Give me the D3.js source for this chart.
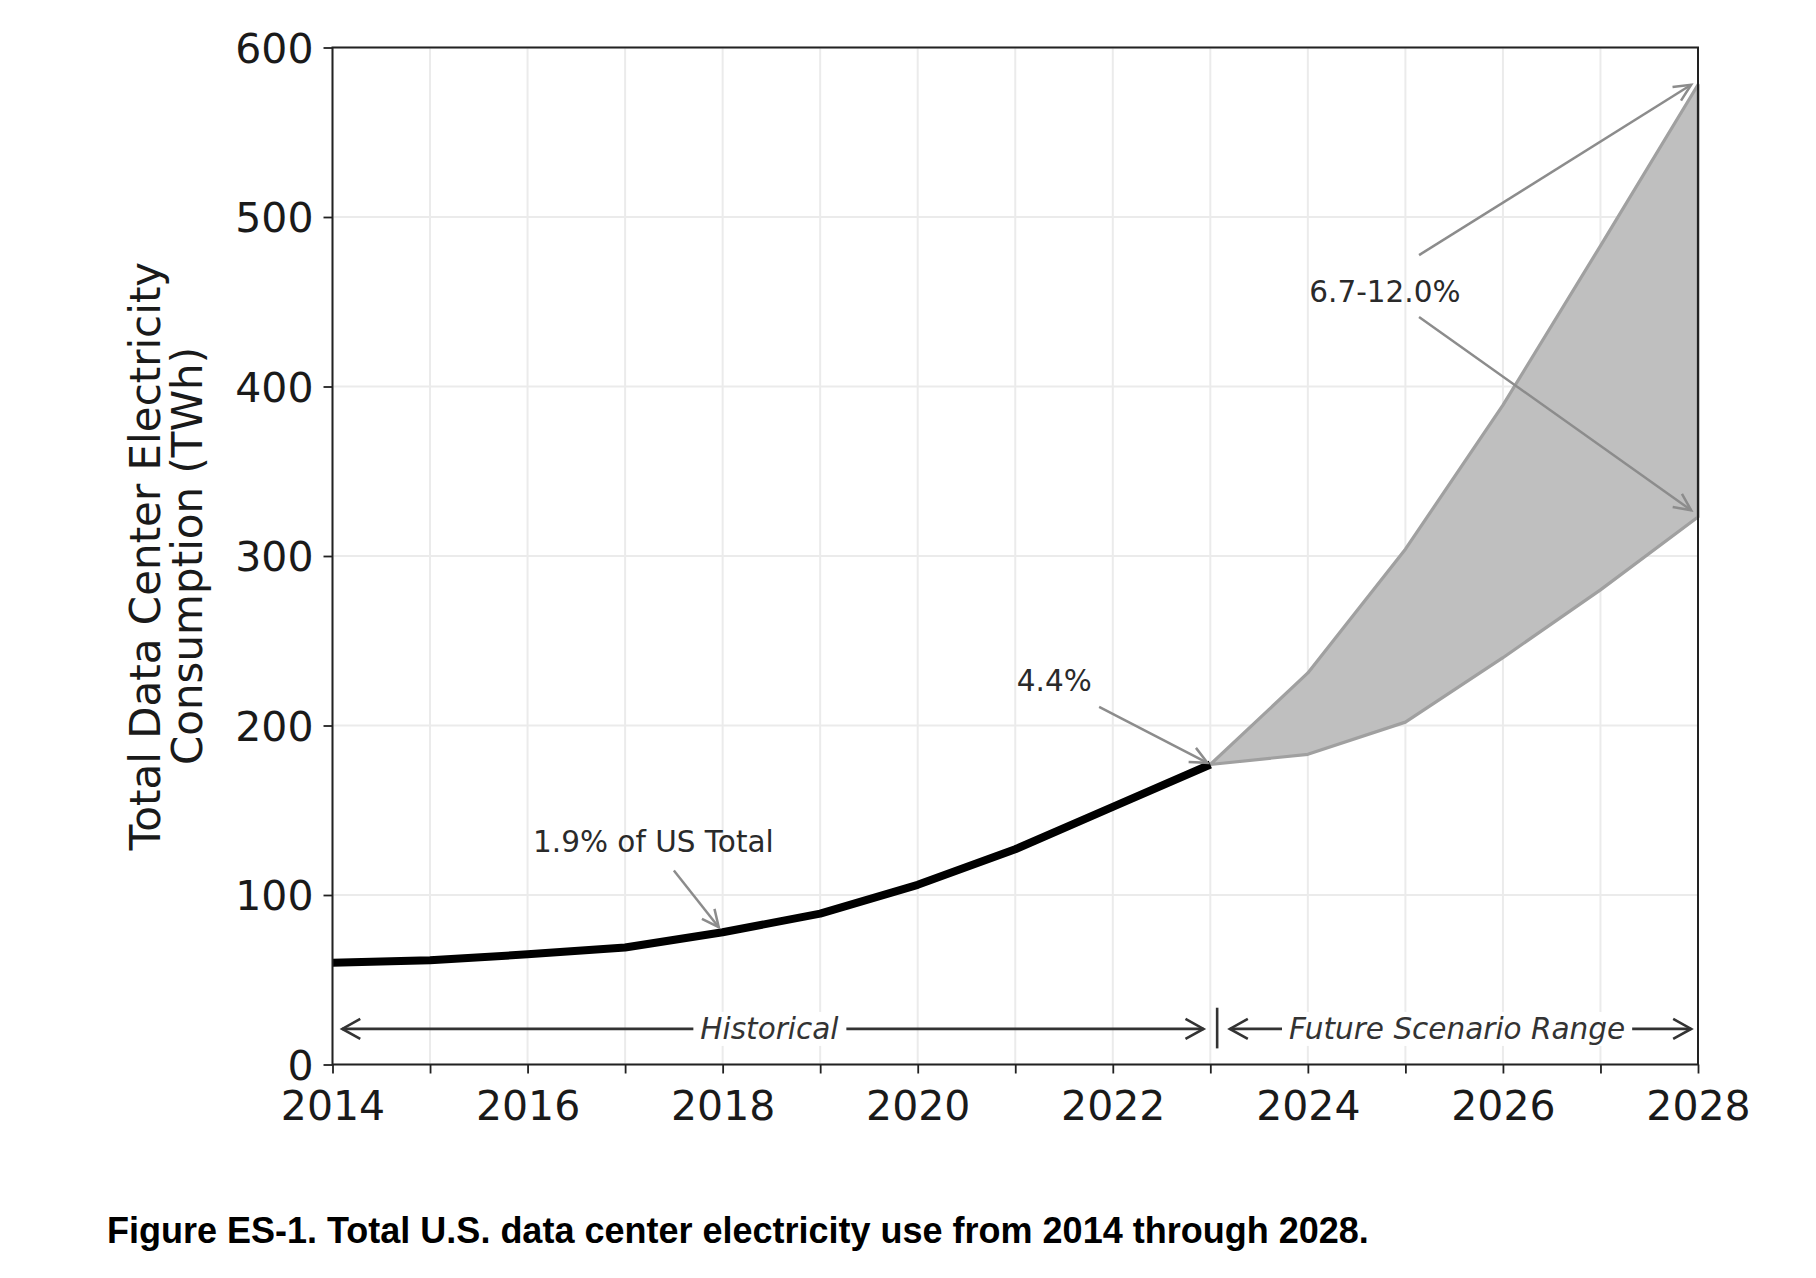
<!DOCTYPE html>
<html><head><meta charset="utf-8">
<script src="https://cdn.jsdelivr.net/npm/d3@7"></script>
<style>html,body{margin:0;padding:0;background:#fff;} svg{display:block;}</style>
</head><body>
<svg id="chart" width="1816" height="1278"></svg>
<script>
// ---- data ----
const histYears = [2014,2015,2016,2017,2018,2019,2020,2021,2022,2023];
const histValues = [60,61.5,65,69,78,89,106,127,152,177];
const futYears = [2023,2024,2025,2026,2027,2028];
const futLow = [177,183,202,240,280,323];
const futHigh = [177,231,304,389,483,578];
const xTicks = [2014,2016,2018,2020,2022,2024,2026,2028];
const xMinorTicks = d3.range(2014,2029);
const yTicks = [0,100,200,300,400,500,600];
const yLabelLines = ["Total Data Center Electricity","Consumption (TWh)"];
const caption = "Figure ES-1. Total U.S. data center electricity use from 2014 through 2028.";
// annotations: text + arrow start + arrow tip, in data units
const callouts = [
  {text:"1.9% of US Total", tx:2017.29, ty:131, arrows:[[2017.50,114.5,2017.96,81]]},
  {text:"4.4%", tx:2021.40, ty:226, arrows:[[2021.86,211,2022.97,178]]},
  {text:"6.7-12.0%", tx:2024.79, ty:456, arrows:[[2025.14,477.5,2027.93,578],[2025.14,441,2027.93,327]]}
];
const spans = [
  {text:"Historical", from:2014.1, to:2022.93, tx:2018.48},
  {text:"Future Scenario Range", from:2023.2, to:2027.93, tx:2025.53}
];
const spanValue = 21;
const separator = {x:2023.07, y0:9.5, y1:33.5};

// ---- layout ----
const svg = d3.select("#chart");
const L = 332.5, R = 1698, T = 47.5, B = 1064.5;
const x = d3.scaleLinear().domain([2014,2028]).range([L,R]);
const y = d3.scaleLinear().domain([0,600]).range([B,T]);
const axisColor = "#222";

// grid
const g = svg.append("g");
g.selectAll(".vg").data(xMinorTicks).join("line")
  .attr("x1",d=>x(d)).attr("x2",d=>x(d)).attr("y1",T).attr("y2",B)
  .attr("stroke","#ebebeb").attr("stroke-width",2);
g.selectAll(".hg").data(yTicks).join("line")
  .attr("x1",L).attr("x2",R).attr("y1",d=>y(d)).attr("y2",d=>y(d))
  .attr("stroke","#ebebeb").attr("stroke-width",2);

// future range
const fut = futYears.map((yr,i)=>({yr,lo:futLow[i],hi:futHigh[i]}));
svg.append("path").datum(fut)
  .attr("d", d3.area().x(d=>x(d.yr)).y0(d=>y(d.lo)).y1(d=>y(d.hi)))
  .attr("fill","#bfbfbf").attr("stroke","#a0a0a0").attr("stroke-width",3.2).attr("stroke-linejoin","round");

// historical line
svg.append("path").datum(histYears.map((yr,i)=>[yr,histValues[i]]))
  .attr("d", d3.line().x(d=>x(d[0])).y(d=>y(d[1])))
  .attr("fill","none").attr("stroke","#000").attr("stroke-width",8)
  .attr("stroke-linejoin","round").attr("stroke-linecap","butt");

// arrow helper (open "->" head)
function arrow(sel, x1,y1,x2,y2, color, w, hl, hw){
  sel.append("line").attr("x1",x1).attr("y1",y1).attr("x2",x2).attr("y2",y2)
    .attr("stroke",color).attr("stroke-width",w);
  const a = Math.atan2(y2-y1,x2-x1);
  const p1 = [x2 - hl*Math.cos(a) + hw*Math.sin(a), y2 - hl*Math.sin(a) - hw*Math.cos(a)];
  const p2 = [x2 - hl*Math.cos(a) - hw*Math.sin(a), y2 - hl*Math.sin(a) + hw*Math.cos(a)];
  sel.append("path").attr("d",`M${p1}L${x2},${y2}L${p2}`)
    .attr("fill","none").attr("stroke",color).attr("stroke-width",w).attr("stroke-linejoin","miter");
}

// callouts
const ann = svg.append("g");
callouts.forEach(c=>{
  ann.append("text").attr("x",x(c.tx)).attr("y",y(c.ty))
    .attr("text-anchor","middle").attr("dominant-baseline","central")
    .attr("font-family","DejaVu Sans").attr("font-size",29.5).attr("fill","#2a2a2a").text(c.text);
  c.arrows.forEach(a=>arrow(ann, x(a[0]),y(a[1]),x(a[2]),y(a[3]), "#8c8c8c", 2.5, 17, 8));
});

// spans
spans.forEach(s=>{
  const yy = y(spanValue);
  arrow(ann, x(s.tx), yy, x(s.from), yy, "#333", 2.6, 18, 10);
  arrow(ann, x(s.tx), yy, x(s.to), yy, "#333", 2.6, 18, 10);
  const t = ann.append("text").attr("x",x(s.tx)).attr("y",yy)
    .attr("text-anchor","middle").attr("dominant-baseline","central")
    .attr("font-family","DejaVu Sans").attr("font-style","italic").attr("font-size",29.5)
    .attr("fill","#333").text(s.text);
  const bb = t.node().getBBox();
  ann.insert("rect","text:last-child").attr("x",bb.x-7).attr("y",bb.y).attr("width",bb.width+14).attr("height",bb.height).attr("fill","#fff");
  t.raise();
});
ann.append("line").attr("x1",x(separator.x)).attr("x2",x(separator.x))
  .attr("y1",y(separator.y0)).attr("y2",y(separator.y1)).attr("stroke","#333").attr("stroke-width",2.6);

// axes
const xAxis = svg.append("g").attr("transform",`translate(0,${B})`)
  .call(d3.axisBottom(x).tickValues(xMinorTicks).tickSize(9).tickPadding(17)
    .tickFormat(d=>xTicks.includes(d)?String(d):""));
const yAxis = svg.append("g").attr("transform",`translate(${L},0)`)
  .call(d3.axisLeft(y).tickValues(yTicks).tickSize(9).tickPadding(10).tickFormat(d3.format("d")));
[xAxis,yAxis].forEach(a=>{
  a.select(".domain").remove();
  a.selectAll(".tick line").attr("stroke",axisColor).attr("stroke-width",1.8);
  a.selectAll(".tick text").attr("font-family","DejaVu Sans").attr("font-size",41).attr("fill","#1a1a1a");
});
yAxis.selectAll(".tick text").attr("dy","0.36em");
svg.append("rect").attr("x",L).attr("y",T).attr("width",R-L).attr("height",B-T)
  .attr("fill","none").attr("stroke",axisColor).attr("stroke-width",2);

// y label
const yl = svg.append("text").attr("transform",`translate(145,${(T+B)/2}) rotate(-90)`)
  .attr("text-anchor","middle").attr("font-family","DejaVu Sans").attr("font-size",42).attr("fill","#1a1a1a");
yLabelLines.forEach((l,i)=>yl.append("tspan").attr("x",0).attr("dy",i?"1.0em":"0.35em").text(l));

// caption
svg.append("text").attr("x",107).attr("y",1243)
  .attr("font-family","Liberation Sans, Arial").attr("font-weight","bold").attr("font-size",36).attr("fill","#000")
  .text(caption);
</script>
</body></html>
